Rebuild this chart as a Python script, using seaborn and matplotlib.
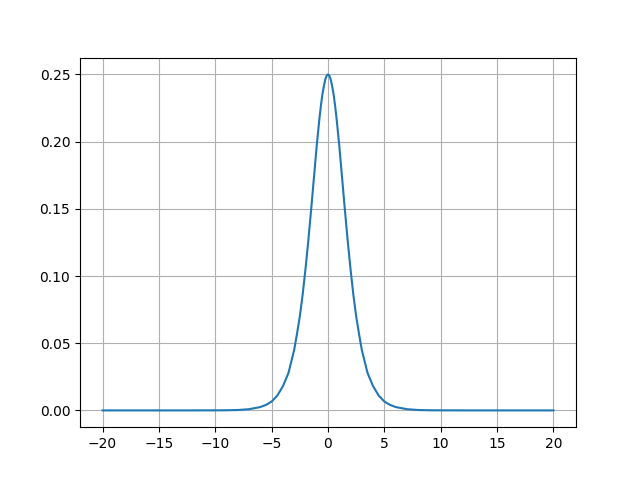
import matplotlib
matplotlib.use("Agg")
import matplotlib.pyplot as plt
import seaborn as sns
import pandas as pd

# values (symmetric bell around 0)
x_right = [0, 0.125, 0.25, 0.375, 0.5, 0.625, 0.75, 1.0, 1.25, 1.5, 1.75, 2.0,
           2.25, 2.5, 2.75, 3.0, 3.5, 4.0, 4.5, 5.0, 5.5, 6.0, 7.0, 8.0, 9.0,
           10.0, 12.0, 15.0, 20.0]
y_right = [0.250, 0.249, 0.246, 0.241, 0.235, 0.227, 0.218, 0.197, 0.173, 0.149,
           0.126, 0.105, 0.086, 0.070, 0.057, 0.045, 0.028, 0.018, 0.011, 0.0066,
           0.0041, 0.0025, 0.0009, 0.0003, 0.0001, 0.00005, 0.0, 0.0, 0.0]

x_vals = [-v for v in reversed(x_right[1:])] + x_right
y_vals = list(reversed(y_right[1:])) + y_right

df = pd.DataFrame({"x": x_vals, "y": y_vals})

fig, ax = plt.subplots(figsize=(6.4, 4.8), dpi=100)
sns.lineplot(data=df, x="x", y="y", ax=ax, color="#1f77b4", linewidth=1.5)
ax.set_xticks([-20, -15, -10, -5, 0, 5, 10, 15, 20])
ax.set_xlabel("")
ax.set_ylabel("")
ax.grid(True)
fig.savefig("out.png", dpi=100)
